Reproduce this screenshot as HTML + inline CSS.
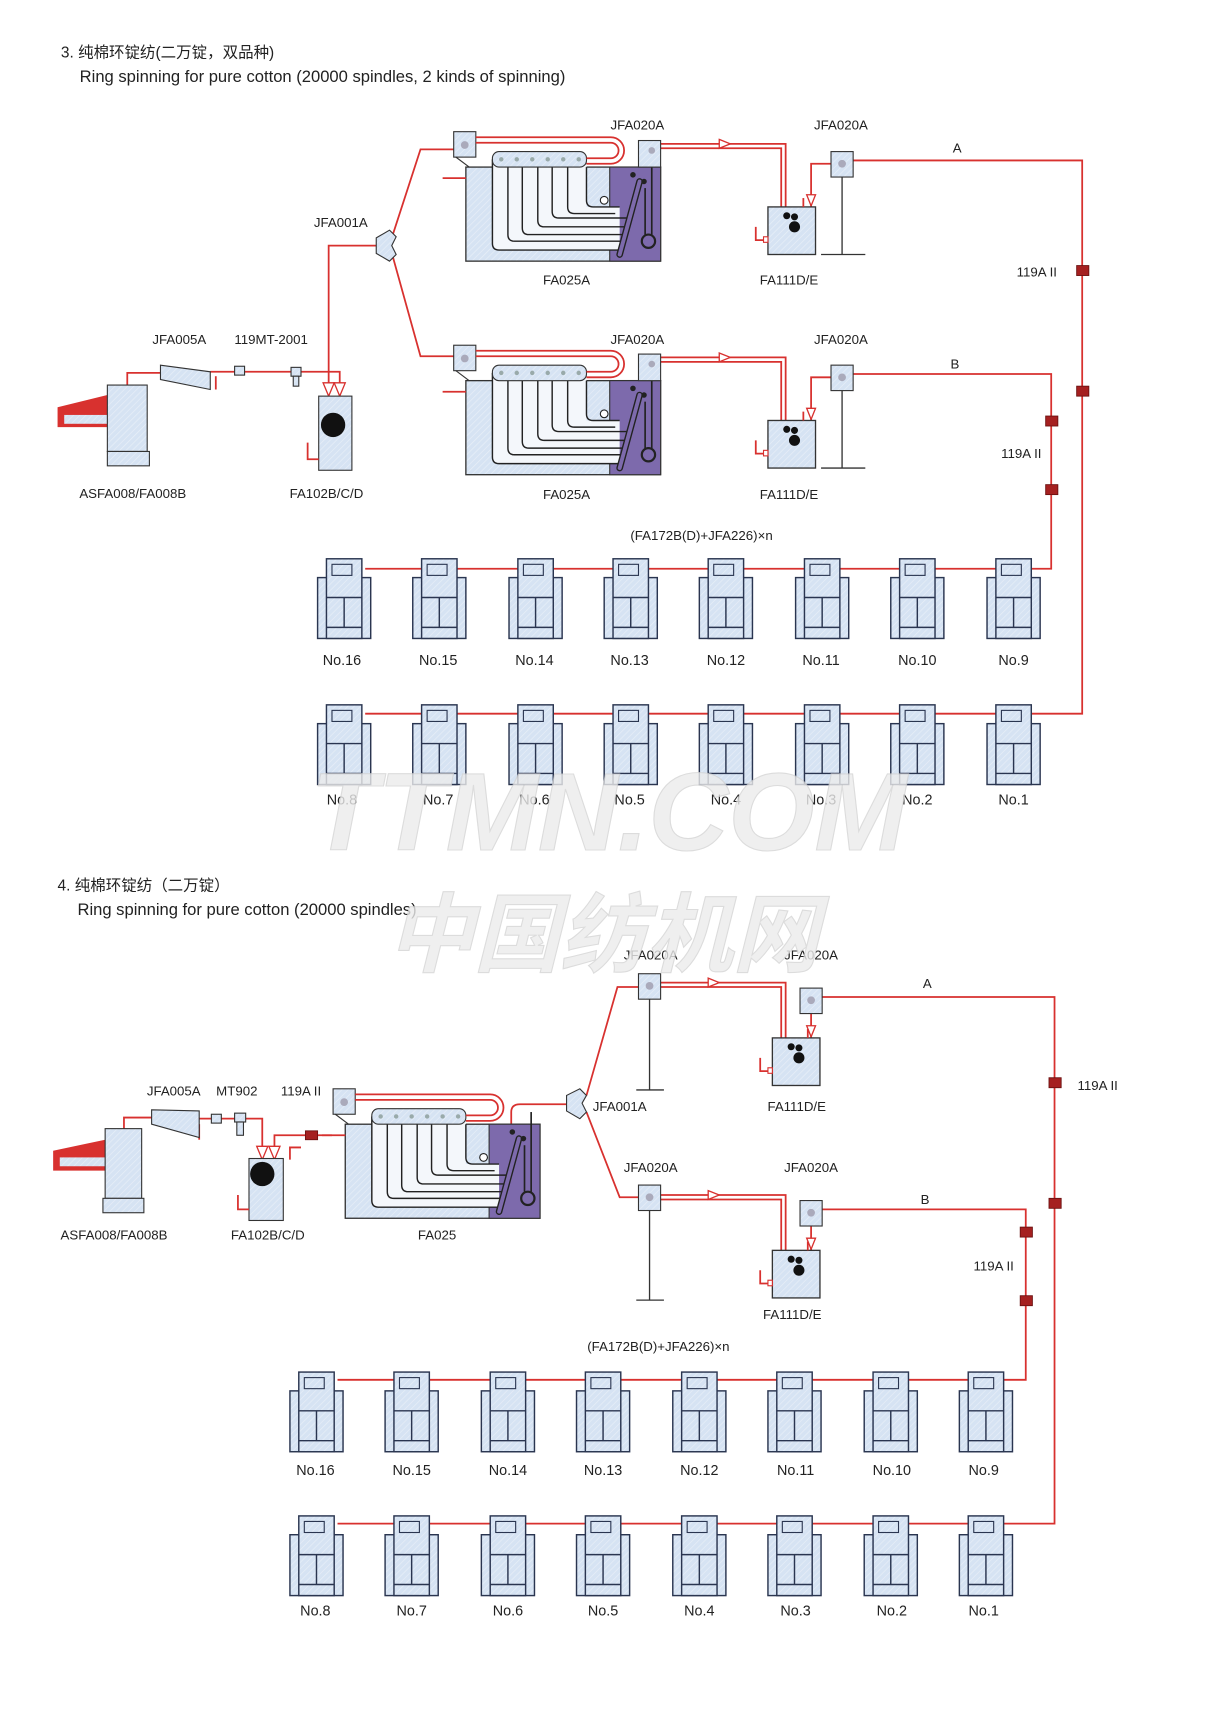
<!DOCTYPE html>
<html><head><meta charset="utf-8"><style>
html,body{margin:0;padding:0;background:#fff}
svg{display:block}
text{font-family:"Liberation Sans","Noto Sans CJK SC",sans-serif;fill:#222}
</style></head><body>
<svg width="1215" height="1735" viewBox="0 0 1098 1568" xmlns="http://www.w3.org/2000/svg">
<defs>
<pattern id="h" width="4" height="4" patternUnits="userSpaceOnUse" patternTransform="rotate(45)">
<rect width="4" height="4" fill="#d6e3f3"/><line x1="0" y1="0" x2="0" y2="4" stroke="#e8eff8" stroke-width="1.2"/></pattern>
<g id="c">
<rect x="0" y="17" width="48" height="55" fill="url(#h)" stroke="#2a3550" stroke-width="1.3"/>
<rect x="8" y="0" width="32" height="72" fill="url(#h)" stroke="#2a3550" stroke-width="1.3"/>
<rect x="13" y="5" width="18" height="10" fill="url(#h)" stroke="#2a3550" stroke-width="1"/>
<line x1="8" y1="35" x2="40" y2="35" stroke="#2a3550" stroke-width="1.3"/>
<line x1="8" y1="62" x2="40" y2="62" stroke="#2a3550" stroke-width="1.3"/>
<line x1="24" y1="35" x2="24" y2="62" stroke="#2a3550" stroke-width="1.3"/>
</g>
<g id="mc">
<rect x="421" y="151" width="176" height="85" fill="url(#h)" stroke="#333" stroke-width="1.2"/>
<rect x="551" y="151" width="46" height="85" fill="#7d6aac" stroke="#333" stroke-width="1"/>
<path d="M445 144V220Q445 226 451 226H560V187H530V144" fill="#f4f7fb"/>
<g fill="none" stroke="#222" stroke-width="1.3" stroke-linejoin="round">
<path d="M445 144V220Q445 226 451 226H560"/>
<path d="M459 151V212Q459 218 465 218H562"/>
<path d="M472 151V206Q472 212 478 212H564"/>
<path d="M486 151V199Q486 205 492 205H566"/>
<path d="M499 151V191Q499 197 505 197H568"/>
<path d="M513 151V187Q513 193 519 193H556"/>
<path d="M530 151V181Q530 187 536 187H560"/>
</g>
<circle cx="546" cy="181" r="3.5" fill="#fff" stroke="#222"/>
<path d="M560 230L578 164" stroke="#222" stroke-width="6" stroke-linecap="round"/>
<path d="M560 230L578 164" stroke="#7d6aac" stroke-width="3.5" stroke-linecap="round"/>
<circle cx="586" cy="218" r="6" fill="none" stroke="#222" stroke-width="2"/>
<circle cx="572" cy="158" r="2.5" fill="#222"/><circle cx="582" cy="164" r="2.5" fill="#222"/>
<line x1="583" y1="170" x2="583" y2="212" stroke="#222" stroke-width="1.5"/>
<line x1="589" y1="140" x2="589" y2="212" stroke="#222" stroke-width="1.5"/>
<rect x="445" y="137" width="85" height="14" rx="6" fill="url(#h)" stroke="#333"/>
<g fill="#9aa">
<circle cx="453" cy="144" r="2"/><circle cx="467" cy="144" r="2"/><circle cx="481" cy="144" r="2"/><circle cx="495" cy="144" r="2"/><circle cx="509" cy="144" r="2"/><circle cx="523" cy="144" r="2"/></g>
<rect x="410" y="119" width="20" height="23" fill="url(#h)" stroke="#333"/>
<circle cx="420" cy="131" r="3.5" fill="#aab"/>
<line x1="412" y1="142" x2="424" y2="151" stroke="#333"/>
<path d="M430 124H552A12 12 0 0 1 552 148H530M430 129H552A7 7 0 0 1 552 143H530" fill="none" stroke="#d8312f" stroke-width="1.6"/>
<path d="M400 161H421" stroke="#d8312f" stroke-width="1.6"/>
</g>
<g id="f">
<rect x="0" y="0" width="43" height="43" fill="url(#h)" stroke="#333" stroke-width="1.2"/>
<circle cx="17" cy="8" r="3.2" fill="#111"/><circle cx="24" cy="9" r="3.2" fill="#111"/><circle cx="24" cy="18" r="5" fill="#111"/>
<path d="M-11 18V30H-2" fill="none" stroke="#d8312f" stroke-width="1.6"/><rect x="-4" y="27" width="4" height="5" fill="#fff" stroke="#d8312f"/>
<path d="M32 -8V0" stroke="#d8312f" stroke-width="1.6"/>
</g>
<g id="cd">
<rect x="0" y="0" width="20" height="23" fill="url(#h)" stroke="#333"/>
<circle cx="10" cy="11" r="3.5" fill="#aab"/>
</g>
</defs>

<text x="55" y="52" font-size="14">3. 纯棉环锭纺(二万锭，双品种)</text>
<text x="72" y="74" font-size="15">Ring spinning for pure cotton (20000 spindles, 2 kinds of spinning)</text>

<g fill="none" stroke="#d8312f" stroke-width="1.6">
<path d="M115 348V337H145"/>
<path d="M190 336H307V358"/>
<path d="M340 222H297V356"/>
<path d="M355 212L380 135H410"/><path d="M355 232L380 322H410"/>
<path d="M597 130H710V187M597 134H706V187"/>
<path d="M597 323H710V380M597 327H706V380"/>
<path d="M751 148H733V187"/><path d="M751 341H733V380"/>
<path d="M770 145H978V645H330"/>
<path d="M770 338H950V514H330"/>
<path d="M195 340V352"/>
</g>
<g fill="#fff" stroke="#d8312f" stroke-width="1.2">
<path d="M650 126L660 130L650 134Z"/><path d="M650 319L660 323L650 327Z"/>
<path d="M729 176L733 186L737 176Z"/><path d="M729 369L733 379L737 369Z"/>
<path d="M302 346L307 358L312 346Z"/><path d="M292 346L297 358L302 346Z"/>
</g>
<g fill="#a52020" stroke="#6b1010" stroke-width=".8">
<rect x="973" y="240" width="11" height="9"/><rect x="973" y="349" width="11" height="9"/>
<rect x="945" y="376" width="11" height="9"/><rect x="945" y="438" width="11" height="9"/>
</g>
<path d="M52 368L97 357V386H52Z" fill="#d8312f"/><rect x="58" y="375" width="39" height="8" fill="url(#h)"/>
<rect x="97" y="348" width="36" height="60" fill="url(#h)" stroke="#333"/>
<rect x="97" y="408" width="38" height="13" fill="url(#h)" stroke="#333"/>
<path d="M145 330L190 336V352L145 343Z" fill="url(#h)" stroke="#333"/>
<rect x="212" y="331" width="9" height="8" fill="url(#h)" stroke="#333"/>
<rect x="263" y="332" width="9" height="8" fill="url(#h)" stroke="#333"/><rect x="265" y="340" width="5" height="9" fill="url(#h)" stroke="#333"/>
<rect x="288" y="358" width="30" height="67" fill="url(#h)" stroke="#333"/>
<circle cx="301" cy="384" r="11" fill="#111"/>
<path d="M278 400V415H288" fill="none" stroke="#d8312f" stroke-width="1.6"/>
<path d="M340 215L352 208L358 214L354 222L358 230L352 236L340 229Z" fill="url(#h)" stroke="#333"/>
<use href="#mc"/>
<use href="#mc" transform="translate(0,193)"/>
<rect x="577" y="127" width="20" height="24" fill="url(#h)" stroke="#333"/><circle cx="589" cy="136" r="3" fill="#aab"/>
<rect x="577" y="320" width="20" height="24" fill="url(#h)" stroke="#333"/><circle cx="589" cy="329" r="3" fill="#aab"/>
<use href="#f" x="694" y="187"/><use href="#f" x="694" y="380"/>
<use href="#cd" x="751" y="137"/><use href="#cd" x="751" y="330"/>
<path d="M761 160V230M742 230H782M761 353V423M742 423H782" stroke="#333" stroke-width="1.2"/>

<g font-size="12">
<text x="162" y="311" text-anchor="middle">JFA005A</text>
<text x="245" y="311" text-anchor="middle">119MT-2001</text>
<text x="308" y="205" text-anchor="middle">JFA001A</text>
<text x="120" y="450" text-anchor="middle">ASFA008/FA008B</text>
<text x="295" y="450" text-anchor="middle">FA102B/C/D</text>
<text x="576" y="117" text-anchor="middle">JFA020A</text>
<text x="760" y="117" text-anchor="middle">JFA020A</text>
<text x="512" y="257" text-anchor="middle">FA025A</text>
<text x="713" y="257" text-anchor="middle">FA111D/E</text>
<text x="576" y="311" text-anchor="middle">JFA020A</text>
<text x="760" y="311" text-anchor="middle">JFA020A</text>
<text x="512" y="451" text-anchor="middle">FA025A</text>
<text x="713" y="451" text-anchor="middle">FA111D/E</text>
<text x="865" y="138" text-anchor="middle">A</text>
<text x="863" y="333" text-anchor="middle">B</text>
<text x="937" y="250" text-anchor="middle">119A II</text>
<text x="923" y="414" text-anchor="middle">119A II</text>
<text x="634" y="488" text-anchor="middle">(FA172B(D)+JFA226)×n</text>
</g>
<g>
<use href="#c" x="287" y="505"/><use href="#c" x="373" y="505"/><use href="#c" x="460" y="505"/><use href="#c" x="546" y="505"/><use href="#c" x="632" y="505"/><use href="#c" x="719" y="505"/><use href="#c" x="805" y="505"/><use href="#c" x="892" y="505"/>
<use href="#c" x="287" y="637"/><use href="#c" x="373" y="637"/><use href="#c" x="460" y="637"/><use href="#c" x="546" y="637"/><use href="#c" x="632" y="637"/><use href="#c" x="719" y="637"/><use href="#c" x="805" y="637"/><use href="#c" x="892" y="637"/>
</g>
<g font-size="13" text-anchor="middle">
<text x="309" y="601">No.16</text><text x="396" y="601">No.15</text><text x="483" y="601">No.14</text><text x="569" y="601">No.13</text><text x="656" y="601">No.12</text><text x="742" y="601">No.11</text><text x="829" y="601">No.10</text><text x="916" y="601">No.9</text>
<text x="309" y="727">No.8</text><text x="396" y="727">No.7</text><text x="483" y="727">No.6</text><text x="569" y="727">No.5</text><text x="656" y="727">No.4</text><text x="742" y="727">No.3</text><text x="829" y="727">No.2</text><text x="916" y="727">No.1</text>
</g>

<text x="52" y="805" font-size="14">4. 纯棉环锭纺（二万锭）</text>
<text x="70" y="827" font-size="15">Ring spinning for pure cotton (20000 spindles)</text>

<g fill="none" stroke="#d8312f" stroke-width="1.6">
<path d="M112 1020V1010H137"/>
<path d="M180 1011H237V1048"/>
<path d="M300 1026H248V1048"/>
<path d="M180 1016V1030"/><path d="M262 1048V1037H272"/>
<path d="M462 1020V1005Q462 998 470 998H512"/>
<path d="M530 990L558 892H577"/><path d="M530 1005L560 1082H577"/>
<path d="M597 888H710V938M597 892H706V938"/>
<path d="M597 1080H710V1130M597 1084H706V1130"/>
<path d="M733 910V938M733 1100V1130"/>
<path d="M743 901H953V1377H305"/>
<path d="M743 1093H927V1247H305"/>
</g>
<g fill="#fff" stroke="#d8312f" stroke-width="1.2">
<path d="M640 884L650 888L640 892Z"/><path d="M640 1076L650 1080L640 1084Z"/>
<path d="M729 927L733 937L737 927Z"/><path d="M729 1119L733 1129L737 1119Z"/>
<path d="M232 1036L237 1048L242 1036Z"/><path d="M243 1036L248 1048L253 1036Z"/>
</g>
<g fill="#a52020" stroke="#6b1010" stroke-width=".8">
<rect x="948" y="974" width="11" height="9"/><rect x="948" y="1083" width="11" height="9"/>
<rect x="922" y="1109" width="11" height="9"/><rect x="922" y="1171" width="11" height="9"/>
<rect x="276" y="1022" width="11" height="8"/><rect x="336" y="1014" width="11" height="8"/>
</g>
<path d="M48 1040L95 1030V1058H48Z" fill="#d8312f"/><rect x="54" y="1046" width="41" height="8" fill="url(#h)"/>
<rect x="95" y="1020" width="33" height="63" fill="url(#h)" stroke="#333"/>
<rect x="93" y="1083" width="37" height="13" fill="url(#h)" stroke="#333"/>
<path d="M137 1003L180 1004V1028L137 1016Z" fill="url(#h)" stroke="#333"/>
<rect x="191" y="1007" width="9" height="8" fill="url(#h)" stroke="#333"/>
<rect x="212" y="1006" width="10" height="8" fill="url(#h)" stroke="#333"/><rect x="214" y="1014" width="6" height="12" fill="url(#h)" stroke="#333"/>
<rect x="225" y="1047" width="31" height="56" fill="url(#h)" stroke="#333"/>
<circle cx="237" cy="1061" r="11" fill="#111"/>
<path d="M215 1080V1093H225" fill="none" stroke="#d8312f" stroke-width="1.6"/>
<use href="#mc" transform="translate(-109,865)"/>
<path d="M512 990L524 984L530 990L526 997L530 1005L524 1011L512 1004Z" fill="url(#h)" stroke="#333"/>
<use href="#cd" x="577" y="880"/><use href="#cd" x="577" y="1071"/>
<path d="M587 903V985M575 985H600M587 1094V1175M575 1175H600" stroke="#333" stroke-width="1.2"/>
<use href="#f" x="698" y="938"/><use href="#f" x="698" y="1130"/>
<use href="#cd" x="723" y="893"/><use href="#cd" x="723" y="1085"/>
<g font-size="12" text-anchor="middle">
<text x="157" y="990">JFA005A</text><text x="214" y="990">MT902</text><text x="272" y="990">119A II</text>
<text x="103" y="1120">ASFA008/FA008B</text><text x="242" y="1120">FA102B/C/D</text><text x="395" y="1120">FA025</text>
<text x="560" y="1004">JFA001A</text>
<text x="588" y="867">JFA020A</text><text x="733" y="867">JFA020A</text>
<text x="838" y="893">A</text><text x="720" y="1004">FA111D/E</text>
<text x="588" y="1059">JFA020A</text><text x="733" y="1059">JFA020A</text>
<text x="836" y="1088">B</text><text x="716" y="1192">FA111D/E</text>
<text x="992" y="985">119A II</text><text x="898" y="1148">119A II</text>
<text x="595" y="1221">(FA172B(D)+JFA226)×n</text>
</g>
<g>
<use href="#c" x="262" y="1240"/><use href="#c" x="348" y="1240"/><use href="#c" x="435" y="1240"/><use href="#c" x="521" y="1240"/><use href="#c" x="608" y="1240"/><use href="#c" x="694" y="1240"/><use href="#c" x="781" y="1240"/><use href="#c" x="867" y="1240"/>
<use href="#c" x="262" y="1370"/><use href="#c" x="348" y="1370"/><use href="#c" x="435" y="1370"/><use href="#c" x="521" y="1370"/><use href="#c" x="608" y="1370"/><use href="#c" x="694" y="1370"/><use href="#c" x="781" y="1370"/><use href="#c" x="867" y="1370"/>
</g>
<g font-size="13" text-anchor="middle">
<text x="285" y="1333">No.16</text><text x="372" y="1333">No.15</text><text x="459" y="1333">No.14</text><text x="545" y="1333">No.13</text><text x="632" y="1333">No.12</text><text x="719" y="1333">No.11</text><text x="806" y="1333">No.10</text><text x="889" y="1333">No.9</text>
<text x="285" y="1460">No.8</text><text x="372" y="1460">No.7</text><text x="459" y="1460">No.6</text><text x="545" y="1460">No.5</text><text x="632" y="1460">No.4</text><text x="719" y="1460">No.3</text><text x="806" y="1460">No.2</text><text x="889" y="1460">No.1</text>
</g>

<text x="550" y="768" font-size="100" font-weight="bold" font-style="italic" text-anchor="middle" style="fill:#ececec;opacity:.8" stroke="#d4d4d4" stroke-width="1">TTMN.COM</text>
<text x="545" y="872" font-size="78" font-weight="bold" font-style="italic" text-anchor="middle" style="fill:#ececec;opacity:.8" stroke="#d4d4d4" stroke-width="1">中国纺机网</text>
</svg>
</body></html>
